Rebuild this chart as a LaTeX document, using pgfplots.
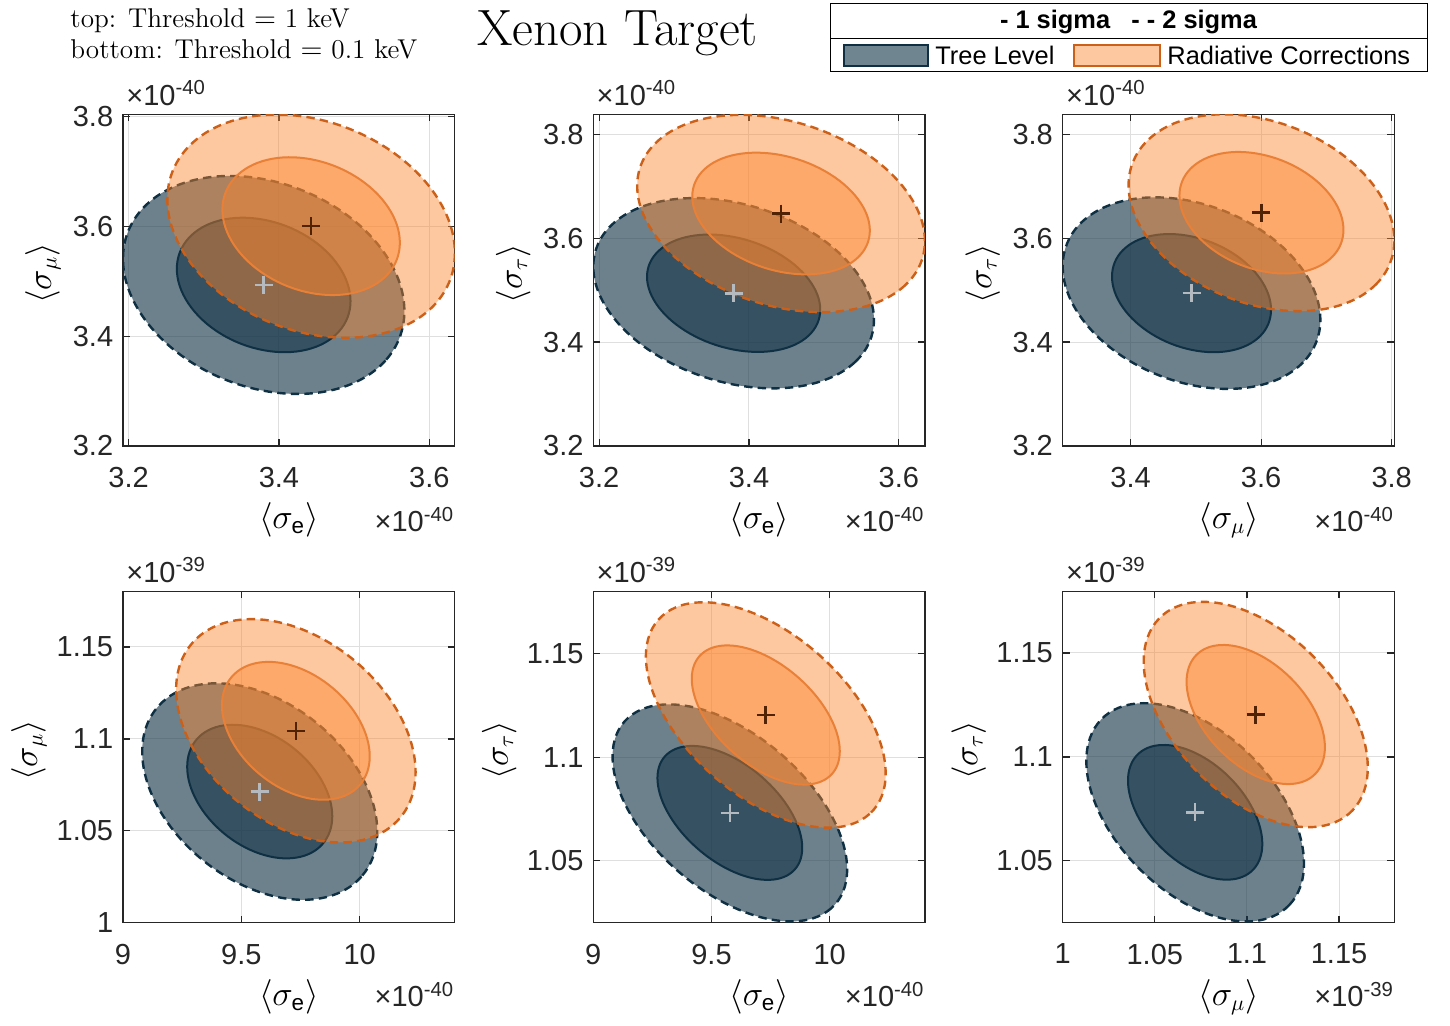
\documentclass[border=0pt]{standalone}
\usepackage{amsmath}
\usepackage{fontspec}
\newfontfamily\arial{Liberation Sans}
\usepackage{pgfplots}
\pgfplotsset{compat=1.18}
\definecolor{treeC}{RGB}{20,52,72}
\definecolor{treeL}{RGB}{14,48,66}
\definecolor{treeP}{RGB}{111,133,144}
\definecolor{radC}{RGB}{251,133,44}
\definecolor{radP}{RGB}{253,200,160}
\definecolor{radL2}{RGB}{204,96,24}
\definecolor{radL1}{RGB}{232,128,56}
\definecolor{axC}{RGB}{38,38,38}
\definecolor{gridC}{RGB}{223,223,223}
\definecolor{treeX}{RGB}{180,186,192}
\definecolor{radX}{RGB}{80,35,5}
\pgfplotsset{
  panel/.style={
    scale only axis, width=165.8pt, height=165.8pt,
    anchor=north west,
    axis line style={axC, line width=0.6pt},
    tick style={axC, line width=0.6pt},
    major tick length=3.5pt,
    tick align=inside,
    grid=major,
    major grid style={gridC, line width=0.5pt},
    ticklabel style={font=\arial\fontsize{14.5}{16}\selectfont, text=axC},
    xticklabel style={yshift=-7pt},
    yticklabel style={xshift=-1.4pt},
    clip mode=individual,
    scaled ticks=false,
    /pgf/number format/assume math mode=true,
    /pgf/number format/fixed,
    /pgf/number format/precision=3,
  },
  tree2/.style={fill=treeC, fill opacity=0.62, draw=treeL, line width=1.2pt, dash pattern=on 4.2pt off 2.6pt, smooth cycle, tension=0.636, forget plot},
  tree1/.style={fill=treeC, fill opacity=0.62, draw=treeL, line width=1pt, smooth cycle, tension=0.636, forget plot},
  rad2/.style={fill=radC, fill opacity=0.45, draw=radL2, line width=1.2pt, dash pattern=on 4.2pt off 2.6pt, smooth cycle, tension=0.636, forget plot},
  rad1/.style={fill=radC, fill opacity=0.45, draw=radL1, line width=1pt, smooth cycle, tension=0.636, forget plot},
  treeX/.style={only marks, mark=+, mark size=4.5pt, mark options={draw=treeX, line width=1.3pt}, forget plot},
  radX/.style={only marks, mark=+, mark size=4.5pt, mark options={draw=radX, line width=1.3pt}, forget plot},
}
\tikzset{
  expo/.style={font=\arial\fontsize{14.5}{16}\selectfont, text=axC, inner sep=0pt},
  lab/.style={font=\fontsize{16}{18}\selectfont, inner sep=0pt},
}
\newcommand{\se}{$\langle\sigma_{\text{\arial e}}\rangle$}
\newcommand{\smu}{$\langle\sigma_{\mu}\rangle$}
\newcommand{\stau}{$\langle\sigma_{\tau}\rangle$}
\begin{document}
\begin{tikzpicture}
\path[fill=white] (0,0) rectangle (725pt,-512.5pt);
% ---------------- P1
\begin{axis}[panel, at={(61.5pt,-57.15pt)},
  xmin=3.1926, xmax=3.6336, ymin=3.2, ymax=3.804,
  xtick={3.2,3.4,3.6}, ytick={3.2,3.4,3.6,3.8}]
\addplot[tree2] coordinates {(3.5668,3.4456) (3.5417,3.3556) (3.4733,3.3025) (3.3797,3.3005) (3.2861,3.3501) (3.2177,3.4381) (3.1926,3.5408) (3.2177,3.6308) (3.2861,3.6839) (3.3797,3.6859) (3.4733,3.6363) (3.5417,3.5483)};
\addplot[tree1] coordinates {(3.4952,3.4638) (3.4797,3.4083) (3.4375,3.3755) (3.3797,3.3743) (3.3219,3.4049) (3.2797,3.4592) (3.2642,3.5226) (3.2797,3.5781) (3.3219,3.6109) (3.3797,3.6121) (3.4375,3.5815) (3.4797,3.5272)};
\addplot[rad2] coordinates {(3.6340,3.5515) (3.6084,3.4594) (3.5384,3.4050) (3.4428,3.4029) (3.3472,3.4538) (3.2772,3.5439) (3.2516,3.6491) (3.2772,3.7412) (3.3472,3.7956) (3.4428,3.7977) (3.5384,3.7468) (3.6084,3.6567)};
\addplot[rad1] coordinates {(3.5608,3.5702) (3.5450,3.5133) (3.5018,3.4797) (3.4428,3.4785) (3.3838,3.5099) (3.3406,3.5655) (3.3248,3.6304) (3.3406,3.6873) (3.3838,3.7209) (3.4428,3.7221) (3.5018,3.6907) (3.5450,3.6351)};
\addplot[treeX] coordinates {(3.3797,3.4932)};
\addplot[radX] coordinates {(3.4428,3.6003)};
\node[expo, anchor=base west] at ([xshift=1.5pt,yshift=4.6pt]rel axis cs:0,1) {×10\textsuperscript{-40}};
\node[expo, anchor=base east] at ([yshift=-43pt]rel axis cs:1,0) {×10\textsuperscript{-40}};
\node[lab] at ([yshift=-37pt]rel axis cs:0.5,0) {\se};
\node[lab, rotate=90] at ([xshift=-40pt]rel axis cs:0,0.52) {\smu};
\end{axis}
% ---------------- P2
\begin{axis}[panel, at={(296.65pt,-57.15pt)},
  xmin=3.1922, xmax=3.6348, ymin=3.2, ymax=3.8385,
  xtick={3.2,3.4,3.6}, ytick={3.2,3.4,3.6,3.8}]
\addplot[tree2] coordinates {(3.5668,3.4427) (3.5417,3.3617) (3.4732,3.3161) (3.3795,3.3182) (3.2858,3.3674) (3.2173,3.4505) (3.1922,3.5453) (3.2173,3.6263) (3.2858,3.6719) (3.3795,3.6698) (3.4732,3.6206) (3.5417,3.5375)};
\addplot[tree1] coordinates {(3.4951,3.4624) (3.4796,3.4124) (3.4373,3.3842) (3.3795,3.3855) (3.3217,3.4159) (3.2794,3.4672) (3.2639,3.5256) (3.2794,3.5756) (3.3217,3.6038) (3.3795,3.6025) (3.4373,3.5721) (3.4796,3.5208)};
\addplot[rad2] coordinates {(3.6348,3.5943) (3.6091,3.5103) (3.5388,3.4630) (3.4428,3.4652) (3.3468,3.5162) (3.2765,3.6024) (3.2508,3.7007) (3.2765,3.7847) (3.3468,3.8320) (3.4428,3.8298) (3.5388,3.7788) (3.6091,3.6926)};
\addplot[rad1] coordinates {(3.5613,3.6147) (3.5454,3.5628) (3.5021,3.5337) (3.4428,3.5350) (3.3835,3.5665) (3.3402,3.6197) (3.3243,3.6803) (3.3402,3.7322) (3.3835,3.7613) (3.4428,3.7600) (3.5021,3.7285) (3.5454,3.6753)};
\addplot[treeX] coordinates {(3.3795,3.4940)};
\addplot[radX] coordinates {(3.4428,3.6475)};
\node[expo, anchor=base west] at ([xshift=1.5pt,yshift=4.6pt]rel axis cs:0,1) {×10\textsuperscript{-40}};
\node[expo, anchor=base east] at ([yshift=-43pt]rel axis cs:1,0) {×10\textsuperscript{-40}};
\node[lab] at ([yshift=-37pt]rel axis cs:0.5,0) {\se};
\node[lab, rotate=90] at ([xshift=-40pt]rel axis cs:0,0.52) {\stau};
\end{axis}
% ---------------- P3
\begin{axis}[panel, at={(531.35pt,-57.15pt)},
  xmin=3.2961, xmax=3.804, ymin=3.2, ymax=3.8385,
  xtick={3.4,3.6,3.8}, ytick={3.2,3.4,3.6,3.8}]
\addplot[tree2] coordinates {(3.6907,3.4426) (3.6643,3.3610) (3.5921,3.3151) (3.4934,3.3172) (3.3947,3.3667) (3.3225,3.4504) (3.2961,3.5458) (3.3225,3.6274) (3.3947,3.6733) (3.4934,3.6712) (3.5921,3.6217) (3.6643,3.5380)};
\addplot[tree1] coordinates {(3.6152,3.4623) (3.5989,3.4120) (3.5543,3.3837) (3.4934,3.3850) (3.4325,3.4155) (3.3879,3.4672) (3.3716,3.5261) (3.3879,3.5764) (3.4325,3.6047) (3.4934,3.6034) (3.5543,3.5729) (3.5989,3.5212)};
\addplot[rad2] coordinates {(3.8040,3.5959) (3.7767,3.5121) (3.7023,3.4649) (3.6005,3.4671) (3.4987,3.5180) (3.4243,3.6040) (3.3970,3.7021) (3.4243,3.7859) (3.4987,3.8331) (3.6005,3.8309) (3.7023,3.7799) (3.7767,3.6940)};
\addplot[rad1] coordinates {(3.7261,3.6162) (3.7093,3.5645) (3.6633,3.5353) (3.6005,3.5367) (3.5377,3.5681) (3.4917,3.6212) (3.4749,3.6818) (3.4917,3.7335) (3.5377,3.7627) (3.6005,3.7613) (3.6633,3.7299) (3.7093,3.6768)};
\addplot[treeX] coordinates {(3.4934,3.4942)};
\addplot[radX] coordinates {(3.6005,3.6490)};
\node[expo, anchor=base west] at ([xshift=1.5pt,yshift=4.6pt]rel axis cs:0,1) {×10\textsuperscript{-40}};
\node[expo, anchor=base east] at ([yshift=-43pt]rel axis cs:1,0) {×10\textsuperscript{-40}};
\node[lab] at ([yshift=-37pt]rel axis cs:0.5,0) {\smu};
\node[lab, rotate=90] at ([xshift=-40pt]rel axis cs:0,0.52) {\stau};
\end{axis}
% ---------------- P4
\begin{axis}[panel, at={(61.5pt,-295.6pt)},
  xmin=9, xmax=10.401, ymin=1, ymax=1.1803,
  xtick={9,9.5,10}, ytick={1,1.05,1.1,1.15}]
\addplot[tree2] coordinates {(10.0742,1.04960) (10.0077,1.02518) (9.8260,1.01314) (9.5777,1.01670) (9.3294,1.03491) (9.1477,1.06289) (9.0812,1.09314) (9.1477,1.11756) (9.3294,1.12960) (9.5777,1.12604) (9.8260,1.10783) (10.0077,1.07985)};
\addplot[tree1] coordinates {(9.8842,1.05793) (9.8431,1.04285) (9.7310,1.03542) (9.5777,1.03762) (9.4244,1.04886) (9.3123,1.06613) (9.2712,1.08481) (9.3123,1.09989) (9.4244,1.10732) (9.5777,1.10512) (9.7310,1.09388) (9.8431,1.07661)};
\addplot[rad2] coordinates {(10.2361,1.08193) (10.1683,1.05674) (9.9832,1.04432) (9.7303,1.04799) (9.4774,1.06678) (9.2923,1.09565) (9.2245,1.12687) (9.2923,1.15206) (9.4774,1.16448) (9.7303,1.16081) (9.9832,1.14202) (10.1683,1.11315)};
\addplot[rad1] coordinates {(10.0425,1.09053) (10.0007,1.07498) (9.8864,1.06731) (9.7303,1.06958) (9.5742,1.08118) (9.4599,1.09900) (9.4181,1.11827) (9.4599,1.13382) (9.5742,1.14149) (9.7303,1.13922) (9.8864,1.12762) (10.0007,1.10980)};
\addplot[treeX] coordinates {(9.5777,1.07137)};
\addplot[radX] coordinates {(9.7303,1.1044)};
\node[expo, anchor=base west] at ([xshift=1.5pt,yshift=4.6pt]rel axis cs:0,1) {×10\textsuperscript{-39}};
\node[expo, anchor=base east] at ([yshift=-42pt]rel axis cs:1,0) {×10\textsuperscript{-40}};
\node[lab] at ([yshift=-37pt]rel axis cs:0.5,0) {\se};
\node[lab, rotate=90] at ([xshift=-47pt]rel axis cs:0,0.52) {\smu};
\end{axis}
% ---------------- P5
\begin{axis}[panel, at={(296.65pt,-295.6pt)},
  xmin=9, xmax=10.4025, ymin=1.0201, ymax=1.180,
  xtick={9,9.5,10}, ytick={1.05,1.1,1.15}]
\addplot[tree2] coordinates {(10.0735,1.04589) (10.0070,1.02719) (9.8255,1.02079) (9.5775,1.02840) (9.3295,1.04800) (9.1480,1.07431) (9.0815,1.10031) (9.1480,1.11901) (9.3295,1.12541) (9.5775,1.11780) (9.8255,1.09820) (10.0070,1.07189)};
\addplot[tree1] coordinates {(9.8837,1.05630) (9.8427,1.04476) (9.7306,1.04081) (9.5775,1.04551) (9.4244,1.05761) (9.3123,1.07385) (9.2713,1.08990) (9.3123,1.10144) (9.4244,1.10539) (9.5775,1.10069) (9.7306,1.08859) (9.8427,1.07235)};
\addplot[rad2] coordinates {(10.2365,1.09206) (10.1686,1.07263) (9.9830,1.06599) (9.7295,1.07389) (9.4760,1.09425) (9.2904,1.12158) (9.2225,1.14858) (9.2904,1.16801) (9.4760,1.17465) (9.7295,1.16675) (9.9830,1.14639) (10.1686,1.11906)};
\addplot[rad1] coordinates {(10.0425,1.10287) (10.0006,1.09088) (9.8860,1.08678) (9.7295,1.09166) (9.5730,1.10423) (9.4584,1.12110) (9.4165,1.13777) (9.4584,1.14976) (9.5730,1.15386) (9.7295,1.14898) (9.8860,1.13641) (10.0006,1.11954)};
\addplot[treeX] coordinates {(9.5775,1.0731)};
\addplot[radX] coordinates {(9.7295,1.12032)};
\node[expo, anchor=base west] at ([xshift=1.5pt,yshift=4.6pt]rel axis cs:0,1) {×10\textsuperscript{-39}};
\node[expo, anchor=base east] at ([yshift=-42pt]rel axis cs:1,0) {×10\textsuperscript{-40}};
\node[lab] at ([yshift=-37pt]rel axis cs:0.5,0) {\se};
\node[lab, rotate=90] at ([xshift=-47pt]rel axis cs:0,0.52) {\stau};
\end{axis}
% ---------------- P6
\begin{axis}[panel, at={(531.35pt,-295.6pt)},
  xmin=1, xmax=1.18, ymin=1.0202, ymax=1.1797,
  xtick={1,1.05,1.1,1.15}, ytick={1.05,1.1,1.15}]
\addplot[tree2] coordinates {(1.13097,1.04868) (1.12305,1.02882) (1.10144,1.02089) (1.07190,1.02702) (1.04236,1.04556) (1.02075,1.07154) (1.01283,1.09802) (1.02075,1.11788) (1.04236,1.12581) (1.07190,1.11968) (1.10144,1.10114) (1.12305,1.07516)};
\addplot[tree1] coordinates {(1.10836,1.05812) (1.10347,1.04586) (1.09013,1.04097) (1.07190,1.04475) (1.05367,1.05620) (1.04033,1.07224) (1.03544,1.08858) (1.04033,1.10084) (1.05367,1.10573) (1.07190,1.10195) (1.09013,1.09050) (1.10347,1.07446)};
\addplot[rad2] coordinates {(1.16559,1.09493) (1.15744,1.07442) (1.13519,1.06624) (1.10478,1.07257) (1.07437,1.09171) (1.05212,1.11854) (1.04397,1.14587) (1.05212,1.16638) (1.07437,1.17456) (1.10478,1.16823) (1.13519,1.14909) (1.15744,1.12226)};
\addplot[rad1] coordinates {(1.14232,1.10468) (1.13729,1.09202) (1.12355,1.08697) (1.10478,1.09087) (1.08601,1.10269) (1.07227,1.11925) (1.06724,1.13612) (1.07227,1.14878) (1.08601,1.15383) (1.10478,1.14993) (1.12355,1.13811) (1.13729,1.12155)};
\addplot[treeX] coordinates {(1.0719,1.07335)};
\addplot[radX] coordinates {(1.10478,1.1204)};
\node[expo, anchor=base west] at ([xshift=1.5pt,yshift=4.6pt]rel axis cs:0,1) {×10\textsuperscript{-39}};
\node[expo, anchor=base east] at ([yshift=-42pt]rel axis cs:1,0) {×10\textsuperscript{-39}};
\node[lab] at ([yshift=-37pt]rel axis cs:0.5,0) {\smu};
\node[lab, rotate=90] at ([xshift=-47pt]rel axis cs:0,0.52) {\stau};
\end{axis}
% ---------------- annotations
\node[anchor=base west, inner sep=0pt, font=\fontsize{13.6}{15}\selectfont] at (35pt,-13.5pt) {top: Threshold $=$ 1 keV};
\node[anchor=base west, inner sep=0pt, font=\fontsize{13.6}{15}\selectfont] at (35pt,-29pt) {bottom: Threshold $=$ 0.1 keV};
\node[anchor=base, inner sep=0pt, font=\fontsize{25.5}{28}\selectfont] at (308.75pt,-22.5pt) {Xenon Target};
% legend
\draw[black, line width=0.5pt, fill=white] (415pt,-1.5pt) rectangle (713.5pt,-19.2pt);
\draw[black, line width=0.5pt, fill=white] (415pt,-19.2pt) rectangle (713.5pt,-35.8pt);
\node[inner sep=0pt, font=\arial\bfseries\fontsize{12.7}{14}\selectfont] at (564.25pt,-10.8pt) {- 1 sigma\ \ \ - - 2 sigma};
\draw[treeL, line width=1pt, fill=treeP] (421.8pt,-22.6pt) rectangle (463.8pt,-33pt);
\draw[radL2, line width=1pt, fill=radP] (536.8pt,-22.6pt) rectangle (579.8pt,-33pt);
\node[anchor=west, inner sep=0pt, font=\arial\fontsize{12.7}{14}\selectfont] at (467.5pt,-27.8pt) {Tree Level};
\node[anchor=west, inner sep=0pt, font=\arial\fontsize{12.7}{14}\selectfont] at (583.5pt,-27.8pt) {Radiative Corrections};
\pgfresetboundingbox
\path[use as bounding box] (0,0) rectangle (725pt,-512.5pt);
\end{tikzpicture}
\end{document}
